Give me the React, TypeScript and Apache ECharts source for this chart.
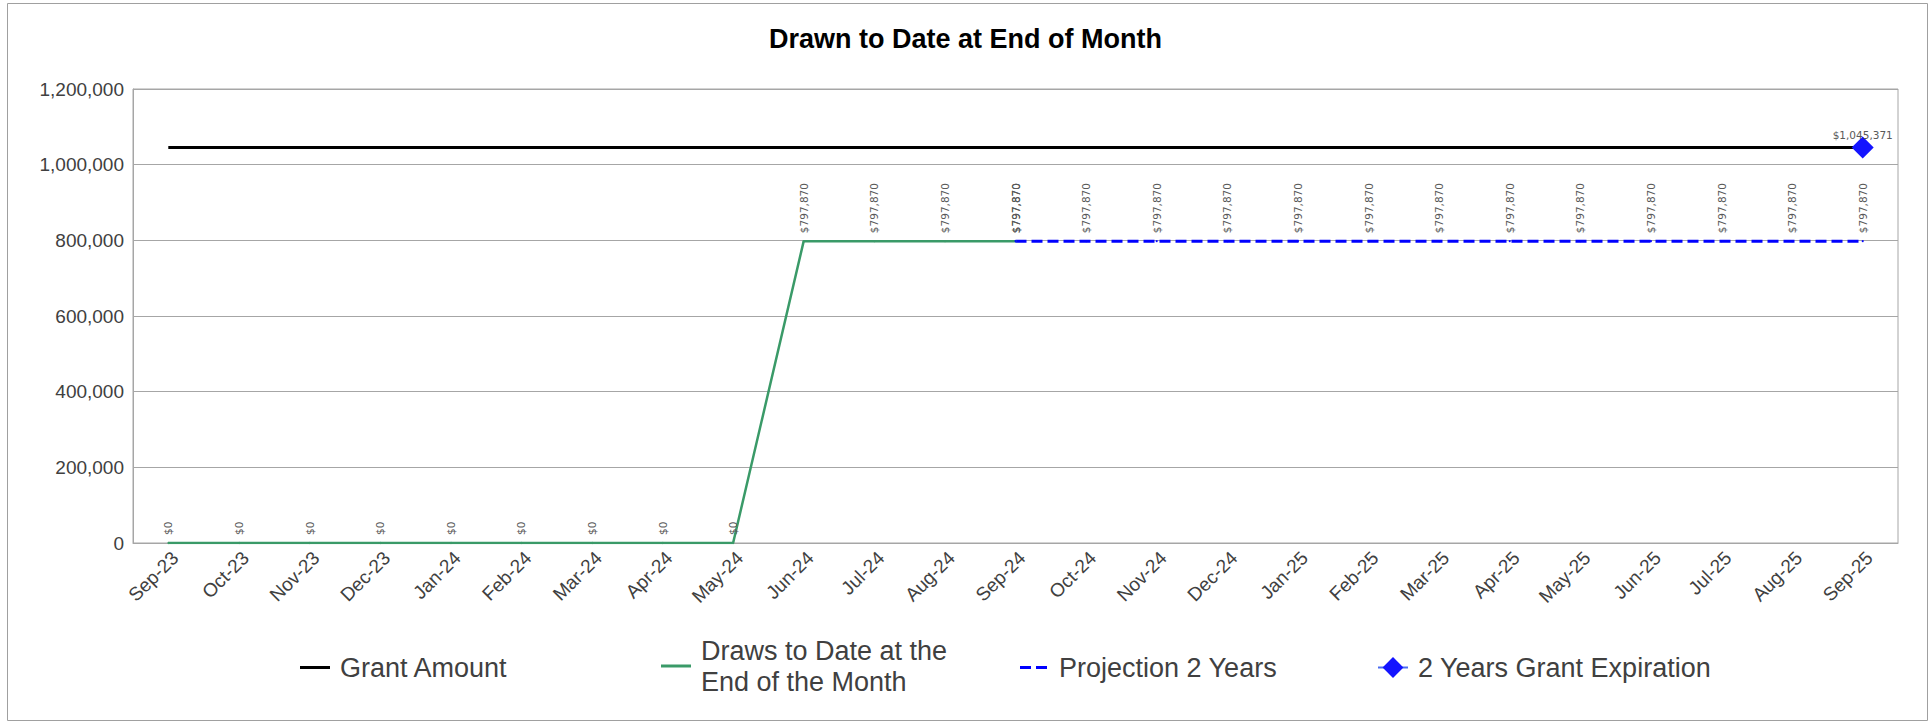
import React, { useEffect, useRef } from "react";
import * as echarts from "echarts";

const categories = [
  "Sep-23", "Oct-23", "Nov-23", "Dec-23", "Jan-24", "Feb-24", "Mar-24", "Apr-24", "May-24",
  "Jun-24", "Jul-24", "Aug-24", "Sep-24", "Oct-24", "Nov-24", "Dec-24", "Jan-25", "Feb-25",
  "Mar-25", "Apr-25", "May-25", "Jun-25", "Jul-25", "Aug-25", "Sep-25",
];

const grantAmount = [
  1045371, 1045371, 1045371, 1045371, 1045371, 1045371, 1045371, 1045371, 1045371,
  1045371, 1045371, 1045371, 1045371, 1045371, 1045371, 1045371, 1045371, 1045371,
  1045371, 1045371, 1045371, 1045371, 1045371, 1045371, 1045371,
];

const drawsToDate = [
  0, 0, 0, 0, 0, 0, 0, 0, 0,
  797870, 797870, 797870, 797870,
  null, null, null, null, null, null, null, null, null, null, null, null,
];

const projection = [
  null, null, null, null, null, null, null, null, null, null, null, null,
  797870, 797870, 797870, 797870, 797870, 797870, 797870, 797870, 797870, 797870, 797870, 797870, 797870,
];

const expiration = [
  null, null, null, null, null, null, null, null, null, null, null, null,
  null, null, null, null, null, null, null, null, null, null, null, null, 1045371,
];

const yTicks = { min: 0, max: 1200000, interval: 200000 };

const SANS = "'Liberation Sans', Arial, sans-serif";
const LABEL_FONT = "'DejaVu Sans', Verdana, sans-serif";
const GREY = "#a6a6a6";
const TEXT = "#404040";

const money = (v: number) => "$" + Math.round(v).toLocaleString("en-US");

const valueLabel = {
  show: true,
  position: "top",
  rotate: 90,
  align: "left",
  verticalAlign: "middle",
  distance: 7,
  color: "#595959",
  fontSize: 10.5,
  fontFamily: LABEL_FONT,
  formatter: (p: any) => money(p.value),
};

export default function App() {
  const ref = useRef<HTMLDivElement>(null);

  useEffect(() => {
    if (!ref.current) return;
    const chart = echarts.init(ref.current, null, { renderer: "svg" });

    const legendText = {
      fontSize: 27,
      color: TEXT,
      fontFamily: SANS,
      lineHeight: 31,
      padding: [0, 0, 0, 5],
    };

    chart.setOption({
      animation: false,
      backgroundColor: "#ffffff",
      title: {
        text: "Drawn to Date at End of Month",
        left: "center",
        top: 20,
        textStyle: { fontSize: 27, fontWeight: "bold", color: "#000", fontFamily: SANS },
      },
      graphic: [
        {
          type: "rect",
          shape: { x: 7.5, y: 3.5, width: 1920, height: 717 },
          style: { fill: "none", stroke: "#a0a0a0", lineWidth: 1 },
          silent: true,
        },
      ],
      grid: {
        left: 133,
        right: 33,
        top: 89,
        bottom: 181,
        show: true,
        borderColor: GREY,
        borderWidth: 1,
        containLabel: false,
      },
      legend: [
        {
          data: [{ name: "Grant Amount", icon: "rect" }],
          left: 300,
          top: 652,
          padding: 0,
          itemWidth: 30,
          itemHeight: 3,
          textStyle: legendText,
        },
        {
          data: [{ name: "Draws to Date at the End of the Month", icon: "rect" }],
          left: 661,
          top: 635,
          padding: 0,
          itemWidth: 30,
          itemHeight: 3,
          formatter: () => "Draws to Date at the\nEnd of the Month",
          textStyle: legendText,
        },
        {
          data: [{ name: "Projection 2 Years", icon: "path://M0,0h11v3h-11z M16,0h11v3h-11z" }],
          left: 1020,
          top: 652,
          padding: 0,
          itemWidth: 27,
          itemHeight: 3,
          textStyle: { ...legendText, padding: [0, 0, 0, 7] },
        },
        {
          data: ["2 Years Grant Expiration"],
          left: 1377,
          top: 652,
          padding: 0,
          itemWidth: 30,
          itemHeight: 26,
          textStyle: legendText,
        },
      ],
      xAxis: {
        type: "category",
        data: categories,
        boundaryGap: true,
        axisLine: { show: true, lineStyle: { color: GREY, width: 1 } },
        axisTick: { show: false },
        axisLabel: {
          interval: 0,
          rotate: 45,
          margin: 5,
          verticalAlign: "top",
          fontSize: 19,
          color: TEXT,
          fontFamily: SANS,
        },
      },
      yAxis: {
        type: "value",
        min: yTicks.min,
        max: yTicks.max,
        interval: yTicks.interval,
        axisLine: { show: true, lineStyle: { color: GREY } },
        axisTick: { show: false },
        splitLine: { show: true, lineStyle: { color: GREY, width: 1 } },
        axisLabel: {
          margin: 9,
          fontSize: 19,
          color: TEXT,
          fontFamily: SANS,
          formatter: (v: number) => v.toLocaleString("en-US"),
        },
      },
      series: [
        {
          name: "Grant Amount",
          type: "line",
          data: grantAmount,
          symbol: "none",
          color: "#000000",
          lineStyle: { color: "#000000", width: 3 },
          z: 2,
        },
        {
          name: "Draws to Date at the End of the Month",
          type: "line",
          data: drawsToDate,
          symbol: "circle",
          symbolSize: 2,
          showSymbol: true,
          color: "#3a9a68",
          itemStyle: { color: "#3a9a68" },
          lineStyle: { color: "#3a9a68", width: 2.5 },
          label: valueLabel,
          z: 3,
        },
        {
          name: "Projection 2 Years",
          type: "line",
          data: projection,
          symbol: "circle",
          symbolSize: 2,
          showSymbol: true,
          color: "#0000ff",
          itemStyle: { color: "#0000ff" },
          lineStyle: { color: "#0000ff", width: 3, type: [11, 5] },
          label: valueLabel,
          z: 3,
        },
        {
          name: "2 Years Grant Expiration",
          type: "line",
          data: expiration,
          symbol: "diamond",
          symbolSize: [22, 22],
          showSymbol: true,
          color: "#1414ff",
          itemStyle: { color: "#1414ff" },
          lineStyle: { color: "#4a6cf0", width: 2 },
          label: {
            show: true,
            position: "top",
            distance: -4,
            color: "#595959",
            fontSize: 10.5,
            fontFamily: LABEL_FONT,
            formatter: (p: any) => money(p.value),
          },
          z: 4,
        },
      ],
    });

    return () => chart.dispose();
  }, []);

  return (
    <div
      ref={ref}
      style={{ position: "fixed", left: 0, top: 0, width: 1931, height: 724 }}
    />
  );
}
